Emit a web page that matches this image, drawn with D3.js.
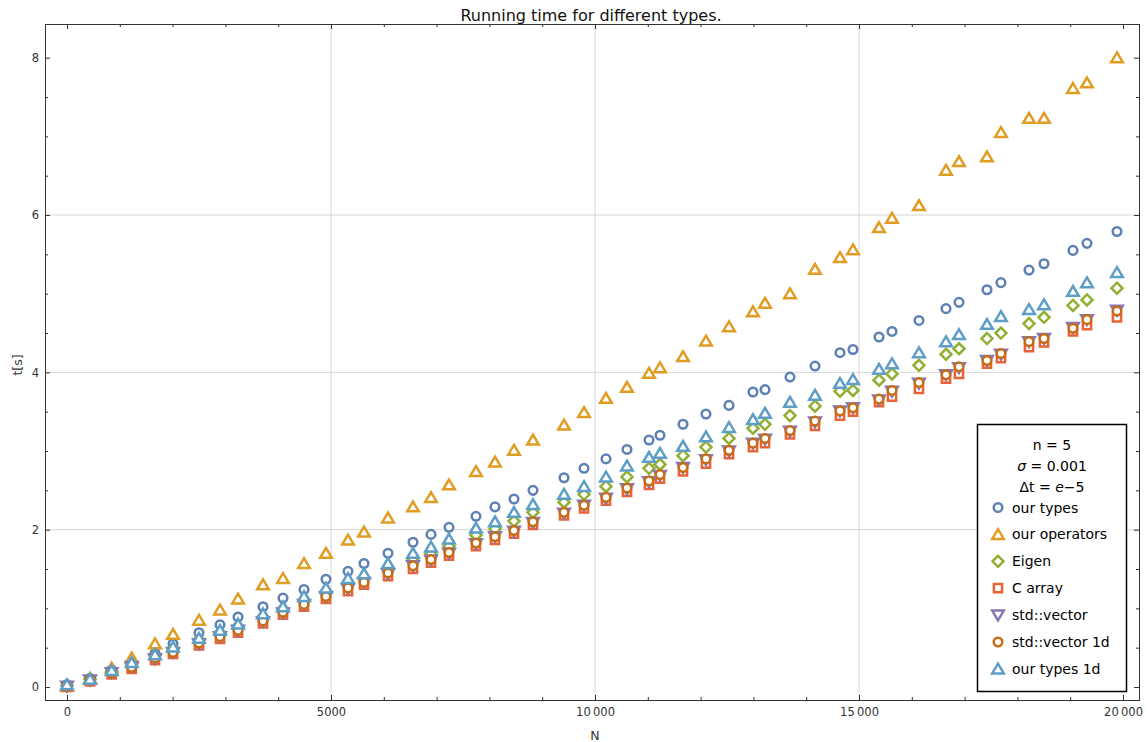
<!DOCTYPE html>
<html>
<head>
<meta charset="utf-8">
<script src="https://cdn.jsdelivr.net/npm/d3@7"></script>
<style>
  body { margin: 0; background: #fff; }
  svg { display: block; font-family: "DejaVu Sans", Verdana, sans-serif; }
  .tick line { stroke: #333; }
</style>
</head>
<body>
<main></main>
<script>
// N values shared by every series
const sizes = [0, 436, 846, 1225, 1667, 2008, 2500, 2898, 3239, 3712, 4091, 4489, 4905, 5322, 5625, 6080, 6553, 6894, 7235, 7746,
  8106, 8466, 8826, 9413, 9792, 10208, 10606, 11023, 11231, 11667, 12102, 12538, 12992, 13220, 13693, 14167, 14640, 14886, 15379, 15625,
  16136, 16648, 16894, 17424, 17689, 18220, 18504, 19053, 19318, 19886]

const ourTypes = [0.03, 0.11, 0.22, 0.32, 0.43, 0.55, 0.69, 0.79, 0.89, 1.02, 1.13, 1.24, 1.37, 1.47, 1.57, 1.70, 1.84, 1.94, 2.03, 2.17,
  2.29, 2.39, 2.50, 2.66, 2.78, 2.90, 3.02, 3.14, 3.20, 3.34, 3.47, 3.58, 3.75, 3.78, 3.94, 4.08, 4.25, 4.29, 4.45, 4.52,
  4.66, 4.81, 4.89, 5.05, 5.14, 5.30, 5.38, 5.55, 5.64, 5.79]

const ourOperators = [0.01, 0.11, 0.24, 0.37, 0.55, 0.67, 0.85, 0.98, 1.12, 1.30, 1.38, 1.57, 1.70, 1.87, 1.97, 2.15, 2.29, 2.41, 2.57, 2.74,
  2.86, 3.01, 3.14, 3.33, 3.49, 3.67, 3.81, 3.99, 4.06, 4.20, 4.40, 4.58, 4.77, 4.88, 5.00, 5.31, 5.46, 5.56, 5.84, 5.96,
  6.12, 6.57, 6.68, 6.74, 7.05, 7.23, 7.23, 7.61, 7.68, 8.00]

const eigen = [0.02, 0.10, 0.20, 0.29, 0.40, 0.49, 0.60, 0.69, 0.77, 0.89, 0.99, 1.10, 1.20, 1.31, 1.39, 1.50, 1.61, 1.69, 1.79, 1.93,
  2.01, 2.11, 2.22, 2.35, 2.45, 2.55, 2.67, 2.78, 2.83, 2.94, 3.05, 3.16, 3.29, 3.34, 3.45, 3.57, 3.76, 3.77, 3.90, 3.98,
  4.09, 4.23, 4.30, 4.43, 4.50, 4.62, 4.70, 4.85, 4.92, 5.07]

const cArray = [0.00, 0.07, 0.16, 0.23, 0.34, 0.42, 0.53, 0.61, 0.69, 0.81, 0.92, 1.02, 1.12, 1.22, 1.30, 1.41, 1.50, 1.58, 1.67, 1.79,
  1.87, 1.95, 2.06, 2.18, 2.27, 2.37, 2.48, 2.57, 2.65, 2.74, 2.84, 2.96, 3.05, 3.10, 3.21, 3.32, 3.45, 3.50, 3.62, 3.69,
  3.79, 3.92, 3.98, 4.11, 4.18, 4.32, 4.38, 4.52, 4.60, 4.70]

const stdVector = [0.01, 0.09, 0.18, 0.26, 0.36, 0.44, 0.55, 0.64, 0.72, 0.83, 0.94, 1.05, 1.15, 1.25, 1.33, 1.44, 1.54, 1.61, 1.70, 1.82,
  1.91, 1.98, 2.09, 2.21, 2.31, 2.40, 2.52, 2.61, 2.69, 2.79, 2.89, 3.00, 3.10, 3.15, 3.25, 3.37, 3.51, 3.55, 3.65, 3.76,
  3.86, 3.97, 4.06, 4.15, 4.23, 4.39, 4.43, 4.57, 4.67, 4.79]

const stdVector1d = [0.01, 0.09, 0.18, 0.25, 0.37, 0.44, 0.56, 0.64, 0.72, 0.84, 0.95, 1.05, 1.15, 1.26, 1.33, 1.45, 1.54, 1.62, 1.71, 1.83,
  1.91, 1.99, 2.10, 2.22, 2.31, 2.41, 2.53, 2.62, 2.70, 2.79, 2.90, 3.01, 3.10, 3.16, 3.26, 3.38, 3.51, 3.55, 3.66, 3.77,
  3.87, 3.97, 4.07, 4.15, 4.24, 4.39, 4.43, 4.56, 4.67, 4.78]

const ourTypes1d = [0.03, 0.10, 0.21, 0.31, 0.41, 0.51, 0.62, 0.72, 0.80, 0.93, 1.02, 1.15, 1.26, 1.38, 1.44, 1.57, 1.70, 1.78, 1.88, 2.02,
  2.10, 2.22, 2.32, 2.45, 2.55, 2.67, 2.81, 2.92, 2.97, 3.06, 3.18, 3.30, 3.40, 3.48, 3.62, 3.71, 3.86, 3.91, 4.04, 4.11,
  4.25, 4.39, 4.48, 4.61, 4.71, 4.80, 4.86, 5.03, 5.14, 5.27]

const seriesNames = ['our types', 'our operators', 'Eigen', 'C array', 'std::vector', 'std::vector 1d', 'our types 1d']
const seriesValues = [ourTypes, ourOperators, eigen, cArray, stdVector, stdVector1d, ourTypes1d]
const seriesColors = ['#5e81b5', '#e19c24', '#8fb032', '#eb6235', '#8778b3', '#c56e1a', '#5d9ec7']
const seriesShapes = ['circle', 'up', 'diamond', 'square', 'down', 'circle', 'up']

const xMajor = [0, 5000, 10000, 15000, 20000]
const xMinor = d3.range(1000, 20000, 1000).filter(d => d % 5000 !== 0)
const yMajor = [0, 2, 4, 6, 8]
const yMinor = d3.range(0.5, 8.5, 0.5).filter(d => d % 2 !== 0)
const xGrid = [5000, 10000, 15000]
const yGrid = [2, 4, 6]

const width = 1148
const height = 742
const frame = { left: 45, right: 1139, top: 24, bottom: 700 }

const createCanvas = () => {
  return d3.select('main')
    .append('svg')
    .attr('width', width)
    .attr('height', height)
}

const defineScales = () => {
  const xScale = d3.scaleLinear().domain([0, 20000]).range([67, 1123])
  const yScale = d3.scaleLinear().domain([0, 8]).range([687, 57.7])
  return { xScale, yScale }
}

const fmt = d => d >= 10000 ? d3.format('d')(d).replace(/(\d\d)(\d{3})$/, '$1\u2009$2') : String(d)

const markerPath = (shape) => {
  const p = d3.path()
  if (shape === 'circle') {
    p.arc(0, 0, 4.3, 0, 2 * Math.PI)
  } else if (shape === 'up') {
    p.moveTo(0, -5.3); p.lineTo(5.8, 4.5); p.lineTo(-5.8, 4.5); p.closePath()
  } else if (shape === 'down') {
    p.moveTo(0, 5.3); p.lineTo(5.8, -4.5); p.lineTo(-5.8, -4.5); p.closePath()
  } else if (shape === 'diamond') {
    p.moveTo(0, -5.5); p.lineTo(5.5, 0); p.lineTo(0, 5.5); p.lineTo(-5.5, 0); p.closePath()
  } else {
    p.rect(-4.1, -4.1, 8.2, 8.2)
  }
  return p.toString()
}

const createGrid = (svg, scales) => {
  const g = svg.append('g').attr('class', 'grid')
  g.selectAll('.gx').data(xGrid).enter().append('line')
    .attr('x1', d => scales.xScale(d)).attr('x2', d => scales.xScale(d))
    .attr('y1', frame.top).attr('y2', frame.bottom)
    .attr('stroke', '#d6d6d6').attr('stroke-width', 1)
  g.selectAll('.gy').data(yGrid).enter().append('line')
    .attr('y1', d => scales.yScale(d)).attr('y2', d => scales.yScale(d))
    .attr('x1', frame.left).attr('x2', frame.right)
    .attr('stroke', '#d6d6d6').attr('stroke-width', 1)
}

const createAxes = (svg, scales) => {
  const addAxis = (axis, transform) => {
    const g = svg.append('g').attr('transform', transform).call(axis)
    g.attr('font-family', '"DejaVu Sans", Verdana, sans-serif').attr('font-size', 11.5)
    g.selectAll('text').attr('fill', '#333')
    g.select('.domain').remove()
    return g
  }
  // bottom
  addAxis(d3.axisBottom(scales.xScale).tickValues(xMajor).tickSize(-5).tickPadding(8).tickFormat(fmt), `translate(0,${frame.bottom})`)
  addAxis(d3.axisBottom(scales.xScale).tickValues(xMinor).tickSize(-3).tickFormat(''), `translate(0,${frame.bottom})`)
  // top
  addAxis(d3.axisTop(scales.xScale).tickValues(xMajor).tickSize(-5).tickFormat(''), `translate(0,${frame.top})`)
  addAxis(d3.axisTop(scales.xScale).tickValues(xMinor).tickSize(-3).tickFormat(''), `translate(0,${frame.top})`)
  // left
  addAxis(d3.axisLeft(scales.yScale).tickValues(yMajor).tickSize(-5).tickPadding(6).tickFormat(d3.format('d')), `translate(${frame.left},0)`)
  addAxis(d3.axisLeft(scales.yScale).tickValues(yMinor).tickSize(-3).tickFormat(''), `translate(${frame.left},0)`)
  // right
  addAxis(d3.axisRight(scales.yScale).tickValues(yMajor).tickSize(-5).tickFormat(''), `translate(${frame.right},0)`)
  addAxis(d3.axisRight(scales.yScale).tickValues(yMinor).tickSize(-3).tickFormat(''), `translate(${frame.right},0)`)

  svg.append('rect')
    .attr('x', frame.left).attr('y', frame.top)
    .attr('width', frame.right - frame.left).attr('height', frame.bottom - frame.top)
    .attr('fill', 'none').attr('stroke', '#333').attr('stroke-width', 1)
    .attr('shape-rendering', 'crispEdges')

  svg.append('text')
    .attr('x', 595).attr('y', 740)
    .attr('text-anchor', 'middle').attr('font-size', 12.5).attr('fill', '#333')
    .text('N')
  svg.append('text')
    .attr('transform', 'translate(22,365) rotate(-90)')
    .attr('text-anchor', 'middle').attr('font-size', 12.5).attr('fill', '#333')
    .text('t[s]')
}

const createTitle = (svg) => {
  svg.append('text')
    .attr('x', 591).attr('y', 20.5)
    .attr('text-anchor', 'middle').attr('font-size', 16).attr('fill', '#111')
    .text('Running time for different types.')
}

const createPoints = (svg, scales) => {
  seriesValues.forEach((values, s) => {
    svg.append('g')
      .selectAll('path')
      .data(values)
      .enter()
      .append('path')
      .attr('d', markerPath(seriesShapes[s]))
      .attr('transform', (d, i) => `translate(${scales.xScale(sizes[i])},${scales.yScale(d)})`)
      .attr('fill', '#fff')
      .attr('stroke', seriesColors[s])
      .attr('stroke-width', 2.5)
  })
}

const createLegend = (svg) => {
  const lg = svg.append('g').attr('class', 'legend')
  lg.append('rect')
    .attr('x', 977.5).attr('y', 424.5).attr('width', 149).attr('height', 267)
    .attr('fill', '#fff').attr('stroke', '#000').attr('stroke-width', 1.5)

  const head = lg.append('g').attr('font-size', 14).attr('text-anchor', 'middle').attr('fill', '#000')
  head.append('text').attr('x', 1052).attr('y', 450).text('n = 5')
  const sig = head.append('text').attr('x', 1052).attr('y', 471)
  sig.append('tspan').attr('font-style', 'italic').text('σ')
  sig.append('tspan').text(' = 0.001')
  const dt = head.append('text').attr('x', 1052).attr('y', 492)
  dt.append('tspan').text('Δt = ')
  dt.append('tspan').attr('font-style', 'italic').text('e')
  dt.append('tspan').text('\u22125')

  const rows = lg.selectAll('.row')
    .data(seriesNames)
    .enter()
    .append('g')
    .attr('transform', (d, i) => `translate(998,${507.5 + i * 26.9})`)
  rows.append('path')
    .attr('d', (d, i) => markerPath(seriesShapes[i]))
    .attr('fill', '#fff')
    .attr('stroke', (d, i) => seriesColors[i])
    .attr('stroke-width', 2.5)
  rows.append('text')
    .attr('x', 14).attr('y', 5)
    .attr('font-size', 14).attr('fill', '#000')
    .text(d => d)
}

const starter = () => {
  const svg = createCanvas()
  const scales = defineScales()
  createGrid(svg, scales)
  createAxes(svg, scales)
  createTitle(svg)
  createPoints(svg, scales)
  createLegend(svg)
}

starter()
</script>
</body>
</html>
